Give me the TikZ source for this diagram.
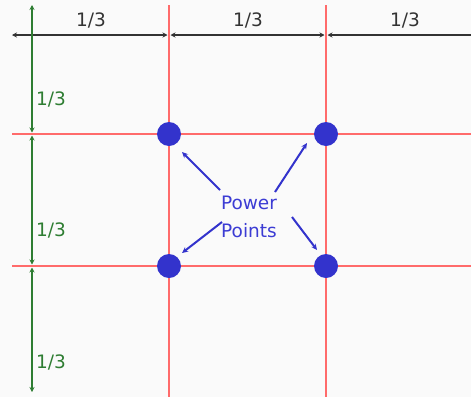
\documentclass[tikz,border=0pt]{standalone}
\usepackage{fontspec}
\setmainfont{DejaVu Sans}
\usetikzlibrary{arrows.meta}
\definecolor{gridred}{HTML}{FF6B6B}
\definecolor{dimgreen}{HTML}{2E7D32}
\definecolor{dotblue}{HTML}{3333CC}
\definecolor{txtblue}{HTML}{3C3CD4}
\definecolor{dimgray}{HTML}{333333}
\tikzset{
  gridline/.style={gridred, line width=2pt},
  hdim/.style={dimgray, line width=2.6pt, {Stealth[length=5pt,width=5pt]}-{Stealth[length=5pt,width=5pt]}},
  hdimleft/.style={dimgray, line width=2.6pt, {Stealth[length=5pt,width=5pt]}-},
  vdim/.style={dimgreen, line width=2pt, {Stealth[length=5pt,width=5pt]}-{Stealth[length=5pt,width=5pt]}},
  hlabel/.style={text=dimgray, font=\fontsize{18.5}{20}\selectfont, inner sep=0pt},
  vlabel/.style={text=dimgreen, font=\fontsize{18.5}{20}\selectfont, inner sep=0pt, anchor=west},
  powerdot/.style={circle, fill=dotblue, minimum size=24pt, inner sep=0pt},
  pointer/.style={dotblue, line width=2pt, -{Stealth[length=6pt,width=5.5pt]}},
  ptext/.style={text=txtblue, font=\fontsize{18.5}{28}\selectfont, align=center, inner sep=0pt}
}
\begin{document}
\begin{tikzpicture}[x=1pt,y=-1pt]
\useasboundingbox (0,0) rectangle (471,397);
\fill[white!98!black] (0,0) rectangle (471,397);
% grid lines
\draw[gridline] (169,5) -- (169,397);
\draw[gridline] (326,5) -- (326,397);
\draw[gridline] (12,134) -- (471,134);
\draw[gridline] (12,266) -- (471,266);
% horizontal dimension
\coordinate (h0) at (12,35);
\coordinate (h1a) at (167.5,35);
\coordinate (h1b) at (170.5,35);
\coordinate (h2a) at (324.5,35);
\coordinate (h2b) at (327.5,35);
\coordinate (h3) at (471,35);
\draw[hdim] (h0) -- (h1a);
\draw[hdim] (h1b) -- (h2a);
\draw[hdimleft] (h2b) -- (h3);
\node[hlabel] (l1) at (91,20) {1/3};
\node[hlabel] (l2) at (248,20) {1/3};
\node[hlabel] (l3) at (405,20) {1/3};
% vertical dimension
\coordinate (v0) at (32,5);
\coordinate (v1a) at (32,132.5);
\coordinate (v1b) at (32,135.5);
\coordinate (v2a) at (32,264.5);
\coordinate (v2b) at (32,267.5);
\coordinate (v3) at (32,392);
\draw[vdim] (v0) -- (v1a);
\draw[vdim] (v1b) -- (v2a);
\draw[vdim] (v2b) -- (v3);
\node[vlabel] (g1) at (36,99) {1/3};
\node[vlabel] (g2) at (36,230) {1/3};
\node[vlabel] (g3) at (36,362) {1/3};
% power points
\node[powerdot] (p1) at (169,134) {};
\node[powerdot] (p2) at (326,134) {};
\node[powerdot] (p3) at (169,266) {};
\node[powerdot] (p4) at (326,266) {};
\node[ptext] (pp) at (249,217) {Power\\Points};
\coordinate (s1) at (220,190);
\coordinate (s2) at (275,192);
\coordinate (s3) at (222,222);
\coordinate (s4) at (292,217);
\coordinate (e1) at (182,152);
\coordinate (e2) at (307,143);
\coordinate (e3) at (182,253);
\coordinate (e4) at (317,250);
\draw[pointer] (s1) -- (e1);
\draw[pointer] (s2) -- (e2);
\draw[pointer] (s3) -- (e3);
\draw[pointer] (s4) -- (e4);
\end{tikzpicture}
\end{document}
